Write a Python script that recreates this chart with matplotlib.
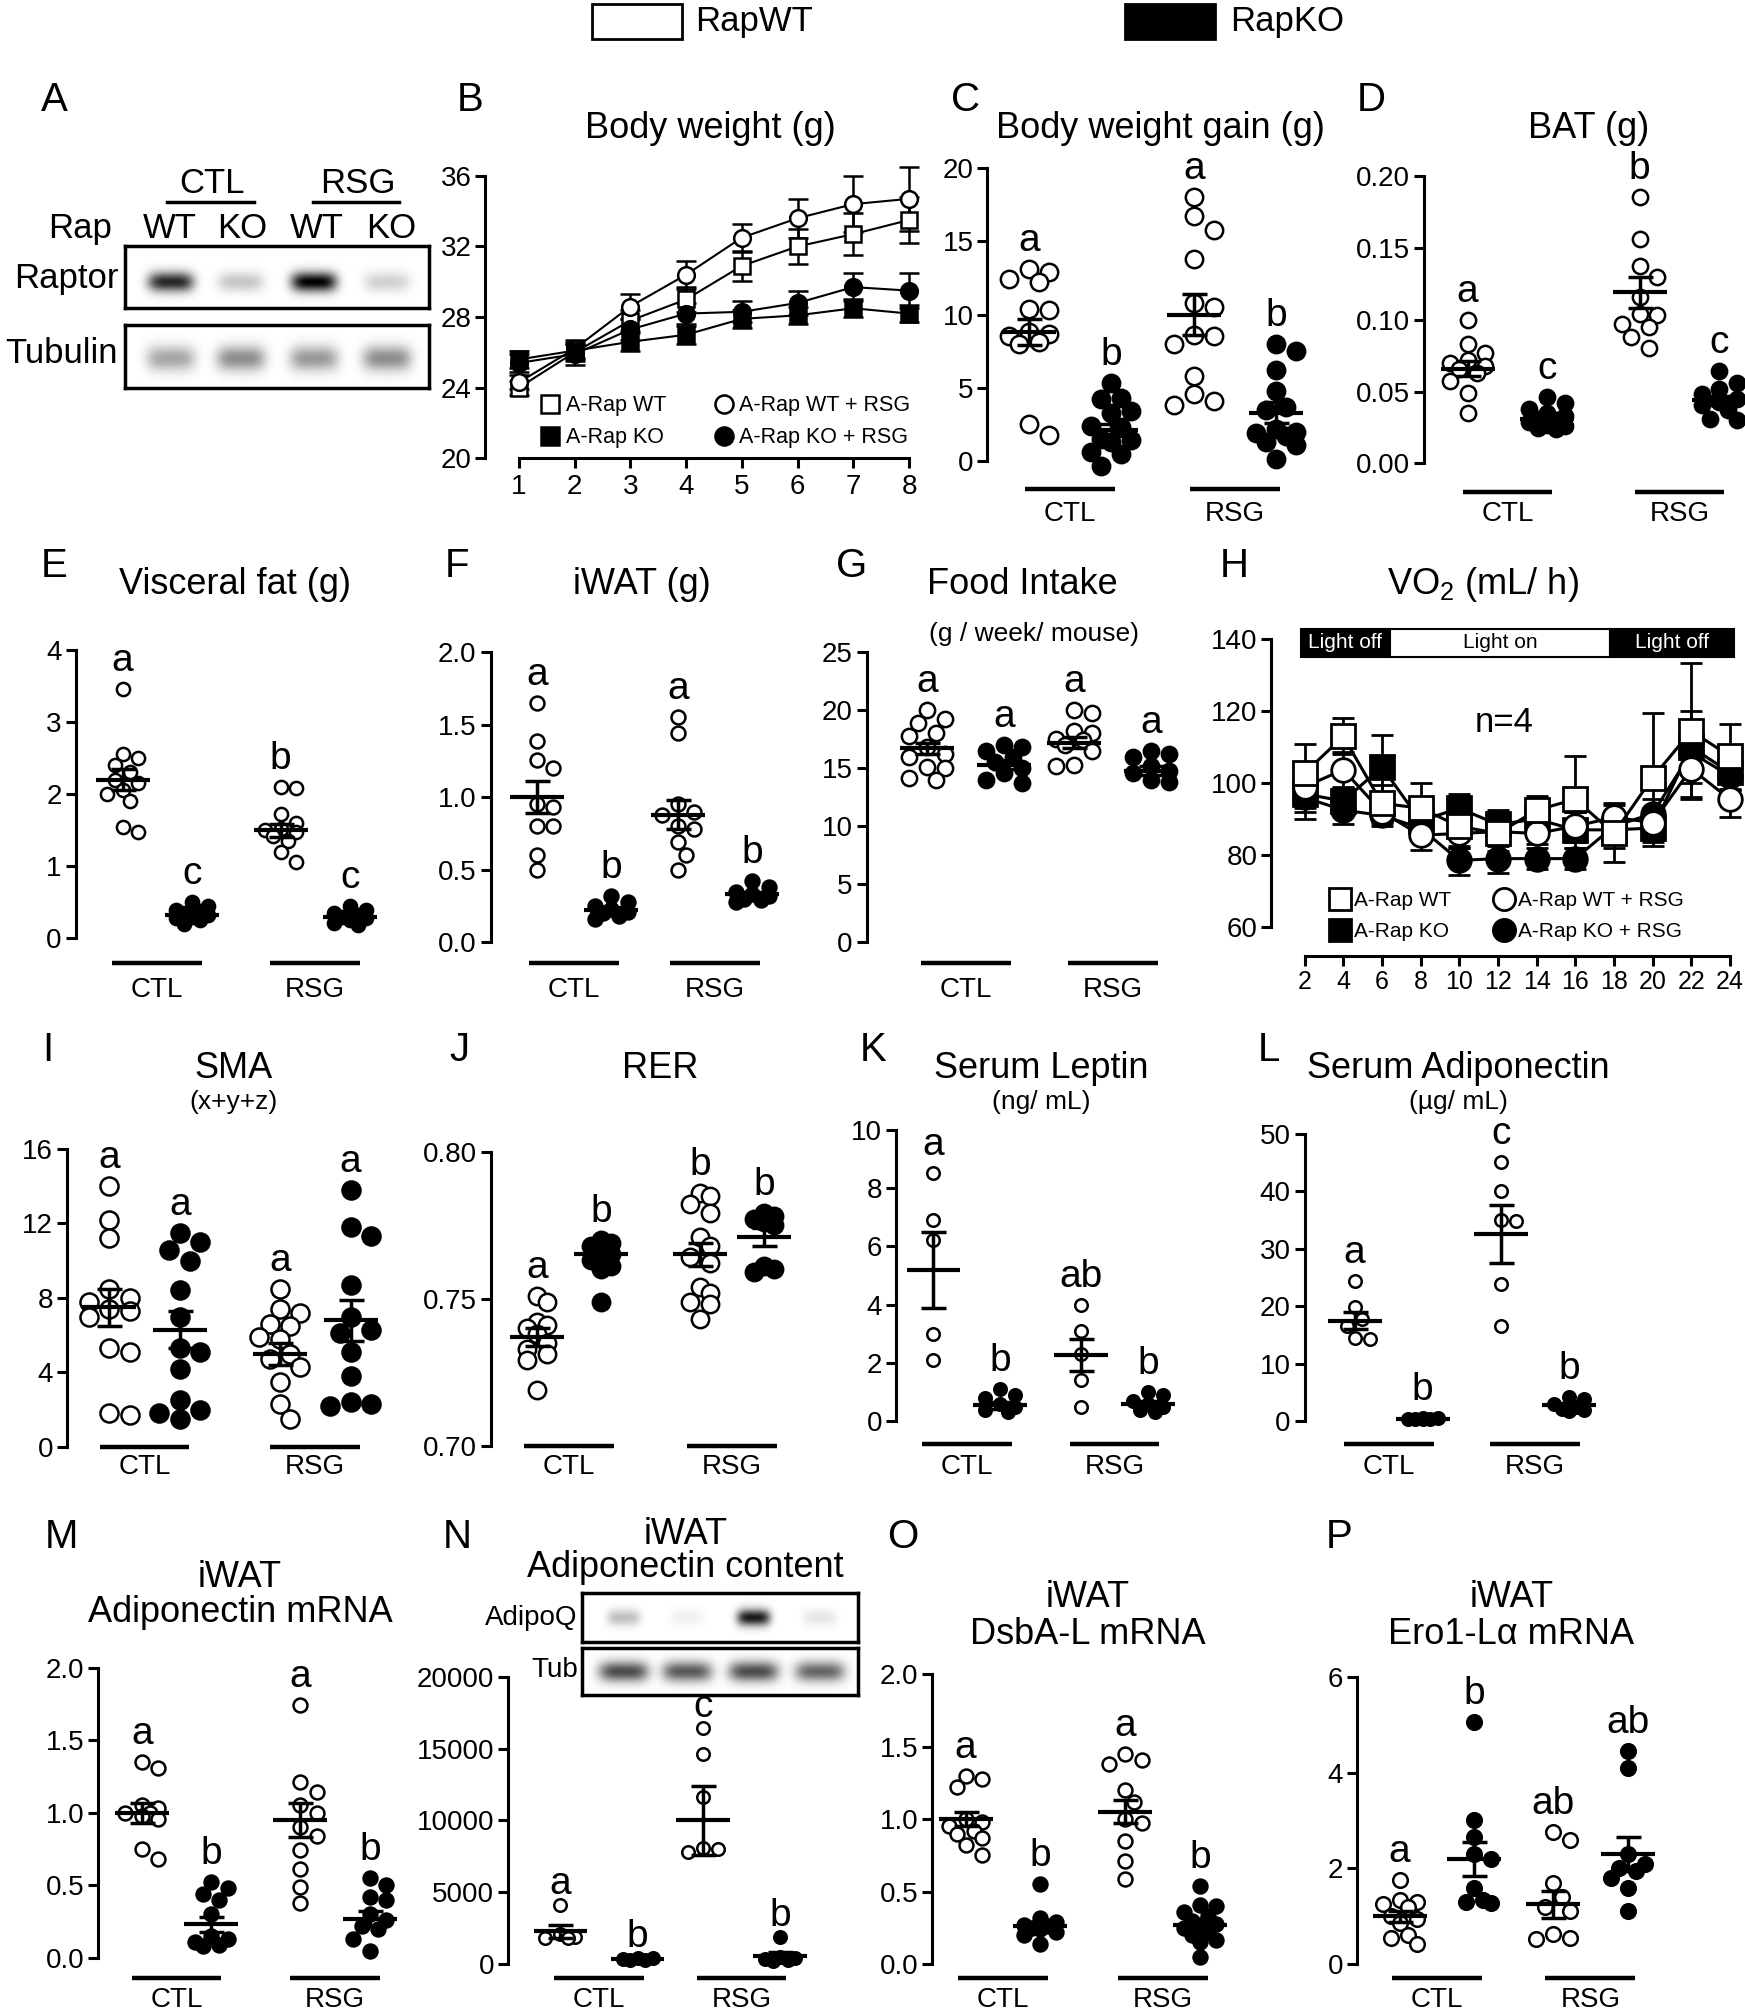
import numpy as np
import matplotlib
matplotlib.use("Agg")
import matplotlib.pyplot as plt
from matplotlib.lines import Line2D
from matplotlib.patches import Rectangle
from matplotlib.transforms import blended_transform_factory

plt.rcParams["font.family"] = ["Liberation Sans", "DejaVu Sans"]
plt.rcParams["mathtext.default"] = "regular"

# ---------------- data ----------------
# B: body weight (g), mean and SEM per week
weeks = [1, 2, 3, 4, 5, 6, 7, 8]
bw_wt = [24.0, 26.0, 27.8, 29.0, 30.9, 32.0, 32.7, 33.5]
bw_wt_err = [0.4, 0.5, 0.6, 0.7, 0.85, 1.0, 1.2, 1.3]
bw_wt_rsg = [24.3, 26.2, 28.6, 30.4, 32.5, 33.6, 34.4, 34.7]
bw_wt_rsg_err = [0.4, 0.5, 0.7, 0.8, 0.8, 1.1, 1.6, 1.8]
bw_ko = [25.6, 26.1, 26.6, 27.0, 27.9, 28.1, 28.5, 28.2]
bw_ko_err = [0.5, 0.5, 0.5, 0.5, 0.5, 0.5, 0.5, 0.5]
bw_ko_rsg = [25.4, 25.9, 27.3, 28.2, 28.3, 28.8, 29.7, 29.5]
bw_ko_rsg_err = [0.5, 0.6, 0.6, 0.6, 0.6, 0.7, 0.8, 1.0]

# H: VO2 (mL/h) over the day
hours = [2, 4, 6, 8, 10, 12, 14, 16, 18, 20, 22, 24]
vo2_wt = [102.8, 113.0, 94.4, 93.0, 88.0, 86.0, 92.5, 95.5, 86.0, 101.5, 114.5, 107.5]
vo2_wt_err = [8, 5, 5, 7, 6, 5, 4, 12, 8, 18, 19, 9]
vo2_wt_rsg = [99.0, 103.7, 92.0, 85.5, 86.0, 86.5, 86.0, 88.0, 90.5, 89.0, 104.0, 95.5]
vo2_wt_rsg_err = [6, 5, 4, 4, 4, 4, 3, 4, 4, 4, 8, 5]
vo2_ko = [97.0, 95.0, 104.5, 89.5, 93.0, 88.5, 90.0, 87.0, 87.0, 87.5, 110.0, 103.0]
vo2_ko_err = [7, 4, 9, 5, 4, 4, 3, 5, 5, 5, 10, 5]
vo2_ko_rsg = [96.0, 92.5, 91.0, 87.5, 78.5, 79.0, 79.0, 79.0, 88.0, 91.5, 108.5, 102.0]
vo2_ko_rsg_err = [4, 4, 2, 3, 4, 4, 3, 3, 4, 4, 5, 4]

# dot plots: groups are CTL-WT, CTL-KO, RSG-WT, RSG-KO
gain = [[13.1, 12.9, 12.4, 12.2, 10.4, 10.3, 8.8, 8.7, 8.5, 8.1, 8.0, 2.5, 1.8],
        [5.3, 4.3, 4.2, 3.4, 3.3, 2.4, 2.3, 1.5, 1.4, 1.3, 0.6, 0.5, -0.35],
        [18.0, 16.7, 15.8, 13.8, 10.8, 10.5, 8.6, 8.5, 8.0, 5.8, 4.6, 4.1, 3.8],
        [8.0, 7.5, 6.2, 4.8, 3.7, 3.5, 2.2, 2.0, 1.9, 1.7, 1.3, 1.1, 0.1]]
gain_mean = [8.8, 2.1, 10.0, 3.3]
gain_sem = [0.9, 0.4, 1.4, 0.7]

bat = [[0.100, 0.083, 0.077, 0.072, 0.070, 0.068, 0.066, 0.063, 0.057, 0.049, 0.035],
       [0.046, 0.042, 0.038, 0.035, 0.033, 0.031, 0.030, 0.029, 0.027, 0.026, 0.025, 0.024],
       [0.185, 0.156, 0.137, 0.130, 0.116, 0.104, 0.103, 0.097, 0.095, 0.088, 0.080],
       [0.064, 0.056, 0.052, 0.048, 0.045, 0.043, 0.041, 0.037, 0.031, 0.030]]
bat_mean = [0.066, 0.031, 0.119, 0.044]
bat_sem = [0.005, 0.002, 0.011, 0.003]

visc = [[3.45, 2.55, 2.5, 2.4, 2.3, 2.2, 2.15, 2.05, 2.0, 1.9, 1.55, 1.47],
        [0.5, 0.45, 0.4, 0.38, 0.35, 0.33, 0.3, 0.28, 0.25, 0.2],
        [2.1, 2.08, 1.72, 1.6, 1.52, 1.5, 1.48, 1.42, 1.35, 1.2, 1.06],
        [0.45, 0.4, 0.35, 0.33, 0.3, 0.28, 0.25, 0.22, 0.18]]
visc_mean = [2.2, 0.33, 1.5, 0.3]
visc_sem = [0.15, 0.03, 0.09, 0.03]

iwat = [[1.65, 1.39, 1.26, 1.2, 0.95, 0.93, 0.8, 0.8, 0.6, 0.5],
        [0.32, 0.28, 0.25, 0.23, 0.21, 0.2, 0.18, 0.16],
        [1.55, 1.44, 0.95, 0.9, 0.88, 0.8, 0.78, 0.69, 0.6, 0.5],
        [0.42, 0.38, 0.35, 0.33, 0.32, 0.3, 0.29, 0.28]]
iwat_mean = [1.0, 0.22, 0.88, 0.33]
iwat_sem = [0.11, 0.02, 0.1, 0.02]

food = [[20.0, 19.2, 18.9, 18.0, 17.8, 16.8, 16.2, 16.0, 15.1, 15.0, 14.2, 14.0],
        [17.0, 16.8, 16.5, 16.0, 15.5, 15.0, 14.6, 14.0, 13.7],
        [20.0, 19.8, 18.2, 18.0, 17.5, 17.4, 17.0, 16.5, 15.3, 15.2],
        [16.5, 16.2, 16.0, 15.2, 14.8, 14.6, 14.0, 13.8]]
food_mean = [16.7, 15.3, 17.2, 14.8]
food_sem = [0.5, 0.4, 0.5, 0.4]

sma = [[14.0, 12.2, 11.2, 8.5, 8.0, 7.8, 7.4, 7.3, 7.0, 5.3, 5.1, 1.8, 1.7],
       [11.5, 11.0, 10.6, 10.0, 8.4, 7.0, 5.3, 5.1, 4.2, 2.5, 2.0, 1.8, 1.5],
       [8.5, 7.4, 7.2, 6.6, 6.5, 5.9, 5.8, 5.0, 4.7, 4.3, 3.5, 2.3, 1.5],
       [13.8, 11.8, 11.3, 8.7, 7.0, 6.3, 6.1, 5.1, 3.8, 2.4, 2.3, 2.2]]
sma_mean = [7.5, 6.3, 5.0, 6.8]
sma_sem = [1.0, 1.0, 0.6, 1.1]

rer = [[0.751, 0.749, 0.742, 0.741, 0.740, 0.738, 0.735, 0.733, 0.731, 0.729, 0.719],
       [0.770, 0.769, 0.768, 0.767, 0.765, 0.763, 0.761, 0.760, 0.749],
       [0.786, 0.785, 0.782, 0.779, 0.771, 0.768, 0.764, 0.762, 0.754, 0.752, 0.749, 0.748, 0.743],
       [0.779, 0.778, 0.777, 0.776, 0.775, 0.761, 0.760, 0.759]]
rer_mean = [0.737, 0.765, 0.765, 0.771]
rer_sem = [0.003, 0.002, 0.004, 0.003]

leptin = [[8.5, 6.9, 6.2, 3.0, 2.1],
          [1.1, 0.9, 0.8, 0.6, 0.5, 0.4, 0.3],
          [4.0, 3.1, 2.3, 1.4, 0.5],
          [1.0, 0.9, 0.7, 0.6, 0.5, 0.4, 0.3]]
leptin_mean = [5.2, 0.55, 2.26, 0.6]
leptin_sem = [1.3, 0.12, 0.55, 0.1]

adipo = [[24.4, 19.8, 17.8, 16.5, 14.5, 14.2],
         [0.6, 0.5, 0.4, 0.4, 0.3, 0.3],
         [45.1, 40.1, 35.0, 34.8, 23.8, 16.6],
         [4.2, 3.8, 3.0, 2.5, 2.2, 2.0, 1.8]]
adipo_mean = [17.5, 0.4, 32.5, 2.8]
adipo_sem = [1.5, 0.05, 5.0, 0.4]

adq_mrna = [[1.35, 1.31, 1.05, 1.03, 1.0, 1.0, 0.98, 0.96, 0.75, 0.68],
            [0.52, 0.48, 0.44, 0.40, 0.3, 0.15, 0.13, 0.11, 0.09, 0.08],
            [1.74, 1.21, 1.14, 1.05, 1.0, 0.9, 0.84, 0.74, 0.61, 0.49, 0.38],
            [0.55, 0.5, 0.42, 0.4, 0.3, 0.26, 0.22, 0.2, 0.13, 0.05]]
adq_mrna_mean = [1.0, 0.23, 0.95, 0.27]
adq_mrna_sem = [0.07, 0.05, 0.12, 0.05]

adq_prot = [[4100, 2100, 1900, 1850, 1800],
            [450, 400, 350, 300, 300],
            [16400, 14600, 11600, 8100, 7800, 8000],
            [1900, 500, 400, 350, 300, 250]]
adq_prot_mean = [2300, 350, 10000, 600]
adq_prot_sem = [450, 40, 2400, 250]

dsba = [[1.3, 1.28, 1.22, 1.0, 0.98, 0.95, 0.92, 0.9, 0.87, 0.82, 0.75],
        [0.55, 0.32, 0.29, 0.27, 0.26, 0.25, 0.24, 0.22, 0.2, 0.14],
        [1.45, 1.41, 1.38, 1.2, 1.12, 1.0, 0.97, 0.85, 0.71, 0.59],
        [0.54, 0.41, 0.4, 0.36, 0.33, 0.3, 0.28, 0.27, 0.25, 0.22, 0.2, 0.17, 0.15, 0.05]]
dsba_mean = [1.0, 0.26, 1.05, 0.27]
dsba_sem = [0.05, 0.03, 0.08, 0.03]

ero = [[1.75, 1.35, 1.3, 1.25, 1.2, 1.0, 0.95, 0.85, 0.6, 0.55, 0.42],
       [5.05, 3.0, 2.65, 2.3, 2.2, 1.6, 1.35, 1.3, 1.28],
       [2.75, 2.6, 1.7, 1.4, 1.2, 1.1, 0.62, 0.55, 0.52],
       [4.45, 4.1, 2.3, 2.1, 2.0, 1.95, 1.8, 1.6, 1.1]]
ero_mean = [1.0, 2.2, 1.25, 2.3]
ero_sem = [0.12, 0.35, 0.28, 0.35]

# blot band darkness per lane (CTL WT, CTL KO, RSG WT, RSG KO)
raptor_bands = [0.85, 0.22, 1.0, 0.18]
tubulin_bands = [0.35, 0.45, 0.4, 0.45]
adipoq_bands = [0.25, 0.06, 0.9, 0.1]
tub_bands = [0.7, 0.65, 0.7, 0.6]

# ---------------- layout helpers ----------------
# layout numbers are pixels of the reference drawn at 1359 x 1568
W, H = 1359.0, 1568.0
SC = 1745 / W
PT = 100 / 72 / SC          # layout px per point

fig = plt.figure(figsize=(17.45, 20.13), dpi=100)


def fx(x):
    return x / W


def fy(y):
    return 1 - y / H


def swarm(ypx, d, maxw):
    cands = [0.0]
    k = 1
    while k * 0.5 * d <= maxw + 1e-9:
        cands += [k * 0.5 * d, -k * 0.5 * d]
        k += 1
    offs = np.zeros(len(ypx))
    placed = []
    for i in np.argsort(-ypx):
        best, best_gap = 0.0, -1.0
        for c in cands:
            gap = min((np.hypot(c - ox, ypx[i] - oy) for ox, oy in placed), default=1e9)
            if gap >= 0.85 * d:
                best = c
                break
            if gap > best_gap:
                best, best_gap = c, gap
        offs[i] = best
        placed.append((best, ypx[i]))
    return offs


def style_y(ax, ticks, labels):
    for s in ("top", "right", "bottom"):
        ax.spines[s].set_visible(False)
    ax.spines["left"].set_linewidth(2.2)
    ax.spines["left"].set_bounds(ticks[0], ticks[-1])
    ax.set_yticks(ticks)
    ax.set_yticklabels(labels)
    ax.tick_params(axis="y", direction="out", length=7, width=2.2, labelsize=20, pad=3)
    ax.set_xticks([])
    ax.patch.set_visible(False)


def dot_panel(spine_x, top_y, bot_y, ctl_c, rsg_c, half, ticks, labels,
              groups, means, sems, letters, ms, spread, line_y, lab_y, letter_pad=13):
    right = rsg_c + half + 30
    ax = fig.add_axes([fx(spine_x), fy(bot_y), (right - spine_x) / W, (bot_y - top_y) / H])
    ax.set_xlim(0, right - spine_x)
    ax.set_ylim(ticks[0], ticks[-1])
    style_y(ax, ticks, labels)
    px_unit = (bot_y - top_y) / (ticks[-1] - ticks[0])
    d = (ms + 1.8) * PT
    xs = [ctl_c - half, ctl_c + half, rsg_c - half, rsg_c + half]
    for i, vals in enumerate(groups):
        x0 = xs[i] - spine_x
        vals = np.asarray(vals, float)
        offs = swarm(vals * px_unit, d, spread * d)
        ax.scatter(x0 + offs, vals, s=ms ** 2, marker="o",
                   facecolor="white" if i % 2 == 0 else "black",
                   edgecolor="black", linewidths=1.8, clip_on=False, zorder=3)
        ax.plot([x0 - 21, x0 + 21], [means[i]] * 2, color="black", lw=3,
                solid_capstyle="butt", clip_on=False, zorder=5)
        ax.errorbar(x0, means[i], yerr=sems[i], fmt="none", ecolor="black",
                    elinewidth=2.5, capsize=9, capthick=2.5, clip_on=False, zorder=5)
        ax.annotate(letters[i], (x0, vals.max()), xytext=(0, letter_pad), textcoords="offset points",
                    ha="center", va="baseline", fontsize=28)
    tr = blended_transform_factory(ax.transData, fig.transFigure)
    for c, lab in ((ctl_c, "CTL"), (rsg_c, "RSG")):
        ax.plot([c - 35 - spine_x, c + 35 - spine_x], [fy(line_y)] * 2, transform=tr,
                color="black", lw=3.2, solid_capstyle="butt", clip_on=False)
        ax.text(c - spine_x, fy(lab_y), lab, transform=tr, ha="center", va="center", fontsize=20)
    return ax


def blot(left, top, right, bottom, strength, half_w, sig_y, y0):
    ax = fig.add_axes([fx(left), fy(bottom), (right - left) / W, (bottom - top) / H])
    xx, yy = np.meshgrid(np.linspace(0, 1, 400), np.linspace(0, 1, 80))
    dark = np.zeros_like(xx)
    for c, s in zip([0.15, 0.38, 0.62, 0.86], strength):
        dark += s * np.exp(-((xx - c) / half_w) ** 4) * np.exp(-((yy - y0) / sig_y) ** 2)
    ax.imshow(1 - np.clip(dark, 0, 1), cmap="gray", vmin=0, vmax=1, aspect="auto",
              extent=(0, 1, 1, 0), interpolation="bilinear")
    ax.set_xticks([])
    ax.set_yticks([])
    for s in ax.spines.values():
        s.set_linewidth(2.5)
    return ax


def ftext(x, y, s, size, **kw):
    kw.setdefault("ha", "center")
    kw.setdefault("va", "center")
    fig.text(fx(x), fy(y), s, fontsize=size, **kw)


# ---------------- top legend ----------------
fig.add_artist(Rectangle((fx(461), fy(30)), 70 / W, 27 / H, transform=fig.transFigure,
                         facecolor="white", edgecolor="black", lw=2))
fig.add_artist(Rectangle((fx(876), fy(30)), 70 / W, 27 / H, transform=fig.transFigure,
                         facecolor="black", edgecolor="black", lw=2))
ftext(541, 17, "RapWT", 25, ha="left")
ftext(958, 17, "RapKO", 25, ha="left")

# ---------------- panel letters and titles ----------------
for let, x, y in [("A", 42, 78), ("B", 366, 78), ("C", 752, 78), ("D", 1068, 78),
                  ("E", 42, 441), ("F", 356, 441), ("G", 663, 441), ("H", 961, 441),
                  ("I", 37, 818), ("J", 358, 818), ("K", 680, 818), ("L", 988, 818),
                  ("M", 48, 1197), ("N", 356, 1197), ("O", 703, 1197), ("P", 1043, 1197)]:
    ftext(x, y, let, 29)

for s, x, y, size in [("Body weight (g)", 553, 100, 26), ("Body weight gain (g)", 904, 100, 26),
                      ("BAT (g)", 1237, 100, 26), ("Visceral fat (g)", 183, 455, 26),
                      ("iWAT (g)", 500, 455, 26), ("Food Intake", 796, 455, 26),
                      ("(g / week/ mouse)", 805, 494, 19), ("VO$_2$ (mL/ h)", 1155, 455, 26),
                      ("SMA", 182, 832, 26), ("(x+y+z)", 182, 858, 19), ("RER", 514, 832, 26),
                      ("Serum Leptin", 811, 832, 26), ("(ng/ mL)", 811, 858, 19),
                      ("Serum Adiponectin", 1136, 832, 26), ("(µg/ mL)", 1136, 858, 19),
                      ("iWAT", 187, 1229, 26), ("Adiponectin mRNA", 187, 1256, 26),
                      ("iWAT", 534, 1195, 26), ("Adiponectin content", 534, 1221, 26),
                      ("iWAT", 847, 1244, 26), ("DsbA-L mRNA", 847, 1273, 26),
                      ("iWAT", 1177, 1244, 26), ("Ero1-Lα mRNA", 1177, 1273, 26)]:
    ftext(x, y, s, size)

# ---------------- A: western blot ----------------
blot(97, 192, 334, 240, raptor_bands, 0.075, 0.16, 0.58)
blot(97, 253, 334, 302, tubulin_bands, 0.08, 0.2, 0.53)
for s, x in [("CTL", 165), ("RSG", 279)]:
    ftext(x, 143, s, 25)
for x0, x1 in [(130, 198), (244, 311)]:
    fig.add_artist(Line2D([fx(x0), fx(x1)], [fy(157)] * 2, color="black", lw=2.5))
ftext(62, 178, "Rap", 25)
for s, x in [("WT", 132), ("KO", 189), ("WT", 247), ("KO", 305)]:
    ftext(x, 178, s, 25)
ftext(92, 217, "Raptor", 25, ha="right")
ftext(92, 275, "Tubulin", 25, ha="right")

# ---------------- B: body weight ----------------
axb = fig.add_axes([fx(378), fy(357), (714.5 - 378) / W, (357 - 137) / H])
axb.set_xlim(1 - 26 / 43.43, 8.15)
axb.set_ylim(20, 36)
style_y(axb, [20, 24, 28, 32, 36], ["20", "24", "28", "32", "36"])
axb.spines["bottom"].set_visible(True)
axb.spines["bottom"].set_linewidth(2.2)
axb.spines["bottom"].set_bounds(1, 8)
axb.set_xticks(weeks)
axb.tick_params(axis="x", direction="out", length=7, width=2.2, labelsize=20, pad=4)
b_series = [(bw_wt, bw_wt_err, "s", "white"), (bw_wt_rsg, bw_wt_rsg_err, "o", "white"),
            (bw_ko, bw_ko_err, "s", "black"), (bw_ko_rsg, bw_ko_rsg_err, "o", "black")]
for y, e, m, fc in b_series:
    axb.errorbar(weeks, y, yerr=e, color="black", lw=1.5, marker=m, ms=12, mfc=fc, mec="black",
                 mew=1.8, capsize=7, capthick=1.8, elinewidth=1.8, clip_on=False, zorder=3)
hb = [Line2D([], [], ls="none", marker=m, ms=13, mfc=fc, mec="black", mew=1.8)
      for _, _, m, fc in b_series]
axb.legend([hb[0], hb[2], hb[1], hb[3]], ["A-Rap WT", "A-Rap KO", "A-Rap WT + RSG", "A-Rap KO + RSG"],
           ncol=2, loc="upper left", bbox_to_anchor=(fx(422), fy(308)), bbox_transform=fig.transFigure,
           frameon=False, fontsize=15.5, handlelength=0.8, handletextpad=0.3, columnspacing=2.3,
           labelspacing=0.5, borderpad=0, borderaxespad=0)

# ---------------- dot panels ----------------
dot_panel(769, 131, 359, 833.5, 962, 32, [0, 5, 10, 15, 20], ["0", "5", "10", "15", "20"],
          gain, gain_mean, gain_sem, ["a", "b", "a", "b"], 12.5, 1.2, 381, 400)
dot_panel(1109, 137, 361, 1174, 1308, 31, [0, 0.05, 0.10, 0.15, 0.20],
          ["0.00", "0.05", "0.10", "0.15", "0.20"],
          bat, bat_mean, bat_sem, ["a", "c", "b", "c"], 11, 1.2, 383, 400)
dot_panel(59, 506, 731, 122.5, 245.5, 27, [0, 1, 2, 3, 4], ["0", "1", "2", "3", "4"],
          visc, visc_mean, visc_sem, ["a", "c", "b", "c"], 9.5, 1.2, 750, 771)
dot_panel(382, 508, 734, 447, 557, 29, [0, 0.5, 1.0, 1.5, 2.0], ["0.0", "0.5", "1.0", "1.5", "2.0"],
          iwat, iwat_mean, iwat_sem, ["a", "b", "a", "b"], 10, 1.2, 750, 771)
dot_panel(675, 508, 734, 752, 866.5, 30, [0, 5, 10, 15, 20, 25], ["0", "5", "10", "15", "20", "25"],
          food, food_mean, food_sem, ["a", "a", "a", "a"], 11, 1.2, 750, 771)
dot_panel(52, 895, 1127, 112.5, 245.5, 27.5, [0, 4, 8, 12, 16], ["0", "4", "8", "12", "16"],
          sma, sma_mean, sma_sem, ["a", "a", "a", "a"], 13, 1.2, 1127, 1143)
dot_panel(382, 897, 1126, 443, 570, 25, [0.70, 0.75, 0.80], ["0.70", "0.75", "0.80"],
          rer, rer_mean, rer_sem, ["a", "b", "b", "b"], 12.5, 0.5, 1126, 1143)
dot_panel(698, 880, 1107, 753, 868, 26, [0, 2, 4, 6, 8, 10], ["0", "2", "4", "6", "8", "10"],
          leptin, leptin_mean, leptin_sem, ["a", "b", "ab", "b"], 9, 1.2, 1125, 1143)
dot_panel(1016, 883, 1107, 1081.5, 1195.5, 26.5, [0, 10, 20, 30, 40, 50],
          ["0", "10", "20", "30", "40", "50"],
          adipo, adipo_mean, adipo_sem, ["a", "b", "c", "b"], 9, 1.2, 1125, 1143)
dot_panel(76.5, 1299, 1525, 137.5, 261, 27, [0, 0.5, 1.0, 1.5, 2.0], ["0.0", "0.5", "1.0", "1.5", "2.0"],
          adq_mrna, adq_mrna_mean, adq_mrna_sem, ["a", "b", "a", "b"], 10, 1.2, 1541, 1558)

# N: blot inset (drawn before the dots so the letters stay on top)
blot(453, 1241, 668, 1279, adipoq_bands, 0.06, 0.17, 0.5)
blot(453, 1284, 668, 1320, tub_bands, 0.09, 0.22, 0.5)
ftext(450, 1260, "AdipoQ", 20, ha="right")
ftext(450, 1301, "Tub", 20, ha="right")

dot_panel(395.5, 1306, 1530, 466.5, 577.5, 30, [0, 5000, 10000, 15000, 20000],
          ["0", "5000", "10000", "15000", "20000"],
          adq_prot, adq_prot_mean, adq_prot_sem, ["a", "b", "c", "b"], 9, 1.2, 1541, 1558,
          letter_pad=8)
dot_panel(726, 1304, 1530, 781, 905.5, 29, [0, 0.5, 1.0, 1.5, 2.0], ["0.0", "0.5", "1.0", "1.5", "2.0"],
          dsba, dsba_mean, dsba_sem, ["a", "b", "a", "b"], 10, 1.2, 1541, 1558)
dot_panel(1057, 1306, 1530, 1119, 1238.6, 29, [0, 2, 4, 6], ["0", "2", "4", "6"],
          ero, ero_mean, ero_sem, ["a", "b", "ab", "ab"], 10.5, 1.2, 1541, 1558)

# ---------------- H: VO2 ----------------
axh = fig.add_axes([fx(990), fy(722), (1351 - 990) / W, (722 - 498) / H])
axh.set_xlim(2 - 26 / 15.05, 24.25)
axh.set_ylim(60, 140)
style_y(axh, [60, 80, 100, 120, 140], ["60", "80", "100", "120", "140"])
axh.spines["bottom"].set_visible(True)
axh.spines["bottom"].set_linewidth(2.2)
axh.spines["bottom"].set_position(("outward", 21))
axh.spines["bottom"].set_bounds(2, 24)
axh.set_xticks(hours)
axh.tick_params(axis="x", direction="out", length=7, width=2.2, labelsize=18, pad=3)
h_series = [(vo2_ko, vo2_ko_err, "s", "black"), (vo2_ko_rsg, vo2_ko_rsg_err, "o", "black"),
            (vo2_wt_rsg, vo2_wt_rsg_err, "o", "white"), (vo2_wt, vo2_wt_err, "s", "white")]
for y, e, m, fc in h_series:
    axh.errorbar(hours, y, yerr=e, color="black", lw=2.2, marker=m, ms=17, mfc=fc, mec="black",
                 mew=2, capsize=8, capthick=2, elinewidth=2, clip_on=False, zorder=3)
# light/dark bar
for x0, x1, fc, tc, lab in [(1.8, 6.4, "black", "white", "Light off"),
                            (6.4, 17.8, "white", "black", "Light on"),
                            (17.8, 24.2, "black", "white", "Light off")]:
    axh.add_patch(Rectangle((x0, 135.2), x1 - x0, 7.6, facecolor=fc, edgecolor="black",
                            lw=1.5, clip_on=False, zorder=4))
    axh.text((x0 + x1) / 2, 139, lab, color=tc, ha="center", va="center", fontsize=15, zorder=5)
axh.text(12.3, 117, "n=4", ha="center", va="center", fontsize=25)
hh = [Line2D([], [], ls="none", marker=m, ms=16, mfc=fc, mec="black", mew=2)
      for _, _, m, fc in h_series]
axh.legend([hh[3], hh[0], hh[2], hh[1]], ["A-Rap WT", "A-Rap KO", "A-Rap WT + RSG", "A-Rap KO + RSG"],
           ncol=2, loc="upper left", bbox_to_anchor=(fx(1037), fy(694)), bbox_transform=fig.transFigure,
           frameon=False, fontsize=15, handlelength=0.8, handletextpad=0.3, columnspacing=2.1,
           labelspacing=0.6, borderpad=0, borderaxespad=0)

fig.savefig("out.png", dpi=100)
